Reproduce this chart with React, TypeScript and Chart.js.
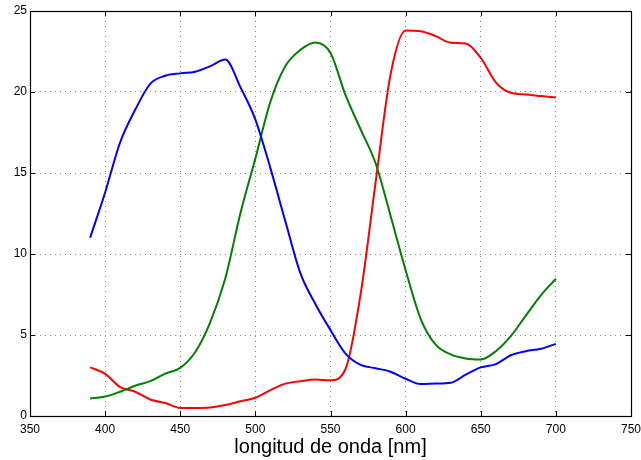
import React, { useEffect, useRef } from 'react';
import { Chart, registerables } from 'chart.js';

Chart.register(...registerables);

const wavelengths = [390, 400, 410, 420, 430, 440, 450, 460, 470, 480, 490, 500, 510, 520, 530, 540, 550, 560, 570, 580, 590, 600, 610, 620, 630, 640, 650, 660, 670, 680, 690, 700];
const blueValues = [11.0, 13.8, 16.9, 18.9, 20.5, 21.0, 21.15, 21.25, 21.6, 22.0, 20.3, 18.3, 15.3, 12.0, 8.8, 6.9, 5.3, 3.85, 3.15, 2.95, 2.73, 2.3, 1.97, 2.0, 2.05, 2.55, 3.0, 3.2, 3.75, 4.0, 4.15, 4.45];
const greenValues = [1.08, 1.2, 1.5, 1.87, 2.15, 2.62, 2.97, 3.95, 5.8, 8.5, 12.5, 15.9, 19.4, 21.6, 22.6, 23.05, 22.4, 19.8, 17.7, 15.6, 12.35, 9.0, 6.0, 4.4, 3.8, 3.55, 3.49, 4.0, 4.93, 6.2, 7.45, 8.47];
const redValues = [3.0, 2.6, 1.78, 1.5, 1.02, 0.8, 0.5, 0.5, 0.53, 0.68, 0.91, 1.13, 1.6, 2.0, 2.15, 2.25, 2.2, 2.9, 7.5, 14.4, 21.1, 23.8, 23.75, 23.45, 23.04, 23.0, 22.1, 20.6, 19.95, 19.85, 19.75, 19.66];
const xTicks = [350, 400, 450, 500, 550, 600, 650, 700, 750];
const yTicks = [0, 5, 10, 15, 20, 25];
const xTitle = 'longitud de onda [nm]';

const FONT = "'Liberation Sans', Arial, Helvetica, sans-serif";

const framePlugin = {
  id: 'frame',
  afterDraw(chart: any) {
    const { ctx, chartArea, scales } = chart;
    const { left, right, top, bottom } = chartArea;
    ctx.save();
    ctx.strokeStyle = '#000';
    ctx.lineWidth = 1;
    const L = 5;
    ctx.beginPath();
    xTicks.forEach((v) => {
      const x = Math.round(scales.x.getPixelForValue(v)) + 0.5;
      ctx.moveTo(x, bottom);
      ctx.lineTo(x, bottom - L);
      ctx.moveTo(x, top);
      ctx.lineTo(x, top + L);
    });
    yTicks.forEach((v) => {
      const y = Math.round(scales.y.getPixelForValue(v)) + 0.5;
      ctx.moveTo(left, y);
      ctx.lineTo(left + L, y);
      ctx.moveTo(right, y);
      ctx.lineTo(right - L, y);
    });
    ctx.stroke();
    ctx.lineWidth = 1.2;
    ctx.strokeRect(Math.round(left) + 0.5, Math.round(top) + 0.5, Math.round(right - left), Math.round(bottom - top));
    ctx.restore();
  },
};

function mk(values: number[]) {
  return wavelengths.map((w, i) => ({ x: w, y: values[i] }));
}

export default function App() {
  const ref = useRef<HTMLCanvasElement | null>(null);
  useEffect(() => {
    if (!ref.current) return;
    const chart = new Chart(ref.current, {
      type: 'line',
      data: {
        datasets: [
          { data: mk(blueValues), borderColor: '#0000ff', borderWidth: 2, pointRadius: 0, cubicInterpolationMode: 'monotone', fill: false },
          { data: mk(greenValues), borderColor: '#008000', borderWidth: 2, pointRadius: 0, cubicInterpolationMode: 'monotone', fill: false },
          { data: mk(redValues), borderColor: '#ff0000', borderWidth: 2, pointRadius: 0, cubicInterpolationMode: 'monotone', fill: false },
        ],
      },
      options: {
        animation: false,
        responsive: false,
        devicePixelRatio: 1,
        layout: { padding: { top: 11, right: 10, left: 0, bottom: 0 } },
        plugins: { legend: { display: false }, tooltip: { enabled: false }, title: { display: false } },
        scales: {
          x: {
            type: 'linear',
            min: 350,
            max: 750,
            afterFit: (s: any) => { s.height = 44; s.paddingLeft = 0; s.paddingRight = 0; },
            afterBuildTicks: (s: any) => { s.ticks = xTicks.map((v) => ({ value: v })); },
            ticks: { font: { family: FONT, size: 12 }, color: '#000', padding: 6, maxRotation: 0 },
            grid: { color: '#888', lineWidth: 1, drawTicks: false },
            border: { display: false, dash: [1, 4] },
            title: { display: true, text: xTitle, font: { family: FONT, size: 20 }, color: '#000', padding: { top: 0, bottom: 1 } },
          },
          y: {
            type: 'linear',
            min: 0,
            max: 25,
            afterFit: (s: any) => { s.width = 30; s.paddingTop = 0; s.paddingBottom = 0; },
            afterBuildTicks: (s: any) => { s.ticks = yTicks.map((v) => ({ value: v })); },
            ticks: { font: { family: FONT, size: 12 }, color: '#000', padding: 3 },
            grid: { color: '#888', lineWidth: 1, drawTicks: false },
            border: { display: false, dash: [1, 4] },
          },
        },
      },
      plugins: [framePlugin],
    } as any);
    return () => chart.destroy();
  }, []);
  return (
    <div style={{ position: 'fixed', left: 0, top: 0, width: 641, height: 460, background: '#fff' }}>
      <canvas ref={ref} width={641} height={460} style={{ width: 641, height: 460 }} />
    </div>
  );
}
